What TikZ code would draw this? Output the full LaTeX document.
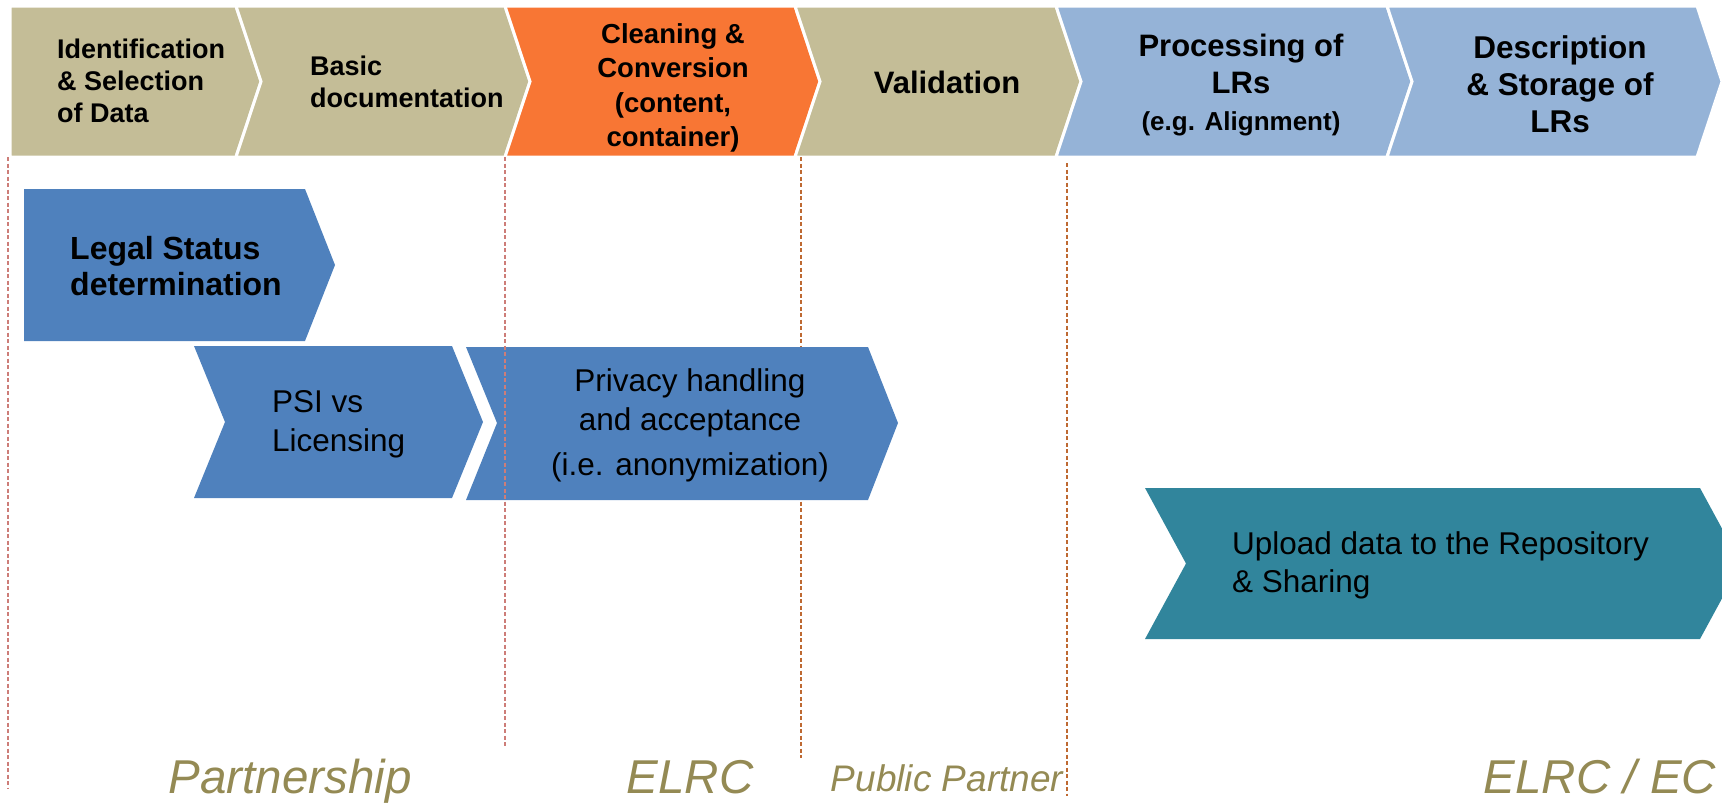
\documentclass[tikz,border=0pt]{standalone}
\usepackage{fontspec}
\setmainfont{Liberation Sans}
\usepackage{xcolor}
\definecolor{tanbox}{RGB}{196,189,151}
\definecolor{orangebox}{RGB}{248,118,52}
\definecolor{lightbluebox}{RGB}{149,179,215}
\definecolor{bluebox}{RGB}{79,129,189}
\definecolor{tealbox}{RGB}{49,133,156}
\definecolor{olivetext}{RGB}{148,138,84}
\definecolor{sepred}{RGB}{205,125,120}
\definecolor{sepbrown}{RGB}{190,105,50}
\tikzstyle{stagebox}=[draw=white, line width=3pt, line join=miter]
\tikzstyle{headtext}=[inner sep=0pt, align=center, font=\bfseries\fontsize{27}{32}\selectfont]
\tikzstyle{bodytext}=[inner sep=0pt, font=\fontsize{31.5}{39}\selectfont]
\tikzstyle{rolelabel}=[inner sep=0pt, anchor=base, text=olivetext, font=\itshape\fontsize{47.5}{50}\selectfont]
\tikzstyle{sepline}=[dash pattern=on 4pt off 2.5pt, line width=1.1pt]

\begin{document}
\begin{tikzpicture}[x=1pt, y=-1pt]
\useasboundingbox (0,0) rectangle (1722,803);
\foreach \xa/\xb/\d/\col in {10/236/0/tanbox, 236/505/25/tanbox, 505/795/25/orangebox, 795/1056/25/tanbox, 1056/1387/25/lightbluebox, 1387/1697/25/lightbluebox} {
	\draw[stagebox, fill=\col] (\xa,6) -- (\xb,6) -- (\xb+25,81.5) -- (\xb,157) -- (\xa,157) -- (\xa+\d,81.5) -- cycle;
}
\node[headtext, align=left, anchor=west] (ident) at (57,81) {Identification\\\& Selection\\of Data};
\node[headtext, align=left, anchor=west] (basicdoc) at (310,82) {Basic\\documentation};
\node[headtext, font=\bfseries\fontsize{27.5}{34.5}\selectfont] (cleaning) at (673,88) {Cleaning \&\\Conversion\\(content,\\container)};
\node[headtext, font=\bfseries\fontsize{31}{36}\selectfont] (valid) at (947,82) {Validation};
\node[headtext, font=\bfseries\fontsize{31}{37}\selectfont] (process) at (1241,85) {Processing of\\LRs\\{\fontsize{26}{30}\selectfont (e.g. Alignment)}};
\node[headtext, font=\bfseries\fontsize{31.5}{37}\selectfont] (descr) at (1560,84) {Description\\\& Storage of\\LRs};

\draw[sepline, sepbrown] (801,157) -- (801,758);
\fill[bluebox] (24,189) -- (305,189) -- (335,265) -- (305,341) -- (24,341) -- cycle;
\fill[bluebox] (194,346) -- (452,346) -- (483,422) -- (452,498) -- (194,498) -- (225,422) -- cycle;
\fill[bluebox] (466,347) -- (868,347) -- (898,423) -- (868,500) -- (466,500) -- (497,423) -- cycle;
\fill[tealbox] (1145,488) -- (1700,488) -- (1741,563.5) -- (1700,639) -- (1145,639) -- (1186,563.5) -- cycle;

\node[headtext, align=left, anchor=west, font=\bfseries\fontsize{32}{36}\selectfont] (legal) at (70,266) {Legal Status\\determination};
\node[bodytext, align=left, anchor=west] (psi) at (272,424) {PSI vs\\Licensing};
\node[bodytext, align=center] (privacy) at (690,425) {Privacy handling\\and acceptance\\[6pt](i.e. anonymization)};
\node[bodytext, align=left, anchor=west, font=\fontsize{31.5}{38}\selectfont] (upload) at (1232,565) {Upload data to the Repository\\\& Sharing};

\draw[sepline, sepred] (8,157) -- (8,788);
\draw[sepline, sepred] (505,157) -- (505,747);
\draw[sepline, sepbrown] (1067,163) -- (1067,796);

\node[rolelabel] (partnership) at (290,793) {Partnership};
\node[rolelabel] (elrc) at (690,793) {ELRC};
\node[rolelabel, font=\itshape\fontsize{37}{40}\selectfont] (public) at (947,791) {Public Partner};
\node[rolelabel] (elrcec) at (1600,793) {ELRC / EC};
\end{tikzpicture}
\end{document}
